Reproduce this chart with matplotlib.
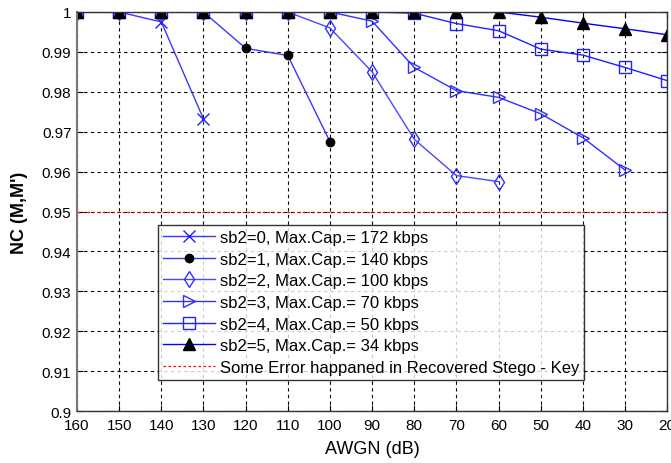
import numpy as np
import matplotlib
matplotlib.use("Agg")
import matplotlib.pyplot as plt
from matplotlib.ticker import FuncFormatter

plt.rcParams['font.family'] = ['Liberation Sans', 'DejaVu Sans']

awgn = [160, 150, 140, 130, 120, 110, 100, 90, 80, 70, 60, 50, 40, 30, 20]

nc_sb0 = [1, 1, 0.9975, 0.9732]
nc_sb1 = [1, 1, 1, 1, 0.9909, 0.9891, 0.9675]
nc_sb2 = [1, 1, 1, 1, 1, 1, 0.9960, 0.9850, 0.9681, 0.9590, 0.9575]
nc_sb3 = [1, 1, 1, 1, 1, 1, 1, 0.9977, 0.9861, 0.9803, 0.9786, 0.9745, 0.9685, 0.9604]
nc_sb4 = [1, 1, 1, 1, 1, 1, 1, 1, 0.9997, 0.9971, 0.9953, 0.9907, 0.9892, 0.9861, 0.9828]
nc_sb5 = [1, 1, 1, 1, 1, 1, 1, 1, 1, 1, 1, 0.9987, 0.9972, 0.9958, 0.9943]

labels = ['sb2=0, Max.Cap.= 172 kbps',
          'sb2=1, Max.Cap.= 140 kbps',
          'sb2=2, Max.Cap.= 100 kbps',
          'sb2=3, Max.Cap.= 70 kbps',
          'sb2=4, Max.Cap.= 50 kbps',
          'sb2=5, Max.Cap.= 34 kbps']
threshold = 0.95
threshold_label = 'Some Error happaned in Recovered Stego - Key'

fig = plt.figure(figsize=(6.71, 4.64), dpi=100)
ax = fig.add_axes([0.1148, 0.112, 0.8795, 0.860])

series = [nc_sb0, nc_sb1, nc_sb2, nc_sb3, nc_sb4, nc_sb5]
styles = [
    dict(marker='x', color='#3838ff', mec='#2020ff', mfc='none', ms=8),
    dict(marker='o', color='#3838ff', mec='black', mfc='black', ms=6),
    dict(marker='d', color='#4848ff', mec='#3030ff', mfc='none', ms=8),
    dict(marker='>', color='#3030ff', mec='#3030ff', mfc='none', ms=8),
    dict(marker='s', color='#2020ff', mec='#2020ff', mfc='none', ms=8),
    dict(marker='^', color='#0000ff', mec='black', mfc='black', ms=8),
]
for vals, st, lab in zip(series, styles, labels):
    ax.plot(awgn[:len(vals)], vals, lw=1.0, label=lab, **st)

ax.axhline(threshold, color='red', lw=0.9, ls=(0, (2, 2)), label=threshold_label)

ax.set_xlim(160, 20)
ax.set_ylim(0.9, 1.0)
ax.set_xticks(awgn)
ax.set_yticks(np.arange(0.9, 1.0001, 0.01))
ax.yaxis.set_major_formatter(FuncFormatter(lambda v, p: '%g' % round(v, 2)))
ax.tick_params(direction='in', top=True, right=True, labelsize=11, length=4)
ax.tick_params(axis='x', pad=5)
ax.tick_params(axis='y', pad=4)
ax.grid(True, color='black', ls=(0, (3, 3)), lw=0.8)
for s in ax.spines.values():
    s.set_color('#333333')
    s.set_linewidth(1.0)
ax.spines['left'].set_color('#777777')
ax.spines['left'].set_linewidth(1.5)

ax.set_xlabel('AWGN (dB)', fontsize=13, labelpad=6)
ax.set_ylabel("NC (M,M')", fontsize=13, fontweight='bold', labelpad=10)

leg = ax.legend(loc='lower left', bbox_to_anchor=(0.137, 0.078), fontsize=12,
                frameon=True, fancybox=False, edgecolor='black',
                handlelength=3.1, borderpad=0.3, labelspacing=0.4,
                handletextpad=0.3, borderaxespad=0)
leg.get_frame().set_linewidth(1.0)

fig.savefig('out.png', dpi=100)
